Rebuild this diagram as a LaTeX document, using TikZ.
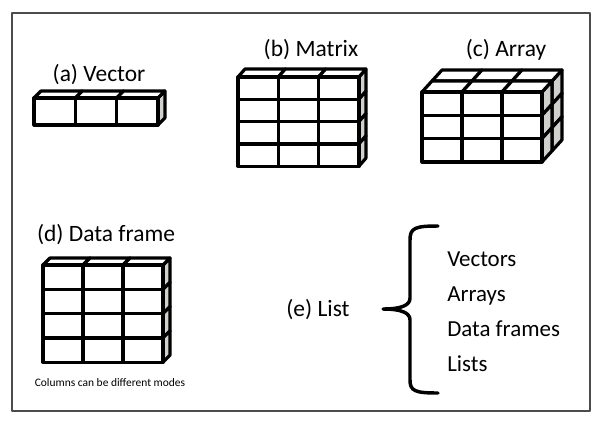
\documentclass[tikz,border=0pt]{standalone}
\usepackage{fontspec}
\setmainfont{Carlito}
\newcommand\gridbox[9]{% x0 y0 ncols nrows w h layers dx dy
  \foreach \k in {#7,...,1}{%
    \foreach \r in {1,...,#4}{%
      \draw[edge,fill=sidegray]
        ({#1+#3*#5+(\k-1)*#8},{#2+(\r-1)*#6+(\k-1)*#9}) --
        ({#1+#3*#5+\k*#8},{#2+(\r-1)*#6+\k*#9}) --
        ({#1+#3*#5+\k*#8},{#2+\r*#6+\k*#9}) --
        ({#1+#3*#5+(\k-1)*#8},{#2+\r*#6+(\k-1)*#9}) -- cycle;
    }
    \foreach \c in {1,...,#3}{%
      \draw[edge,fill=white]
        ({#1+(\c-1)*#5+(\k-1)*#8},{#2+(\k-1)*#9}) --
        ({#1+(\c-1)*#5+\k*#8},{#2+\k*#9}) --
        ({#1+\c*#5+\k*#8},{#2+\k*#9}) --
        ({#1+\c*#5+(\k-1)*#8},{#2+(\k-1)*#9}) -- cycle;
    }
  }
  \foreach \c in {1,...,#3}{%
    \foreach \r in {1,...,#4}{%
      \draw[edge,fill=white]
        ({#1+(\c-1)*#5},{#2+(\r-1)*#6}) rectangle ({#1+\c*#5},{#2+\r*#6});
    }
  }
}
\begin{document}
\begin{tikzpicture}[x=0.75pt,y=-0.75pt,line join=round,
  edge/.style={line width=2.4pt,draw=black},
  lbl/.style={anchor=base,inner sep=0pt,font=\fontsize{17.6}{20}\selectfont},
  item/.style={anchor=base west,inner sep=0pt,font=\fontsize{17.2}{20}\selectfont},
  small/.style={anchor=base,inner sep=0pt,font=\fontsize{8.6}{10}\selectfont}]
\definecolor{sidegray}{RGB}{208,208,204}
\useasboundingbox (0,0) rectangle (602,422);
\draw[line width=1pt,draw=black!70] (12,13) rectangle (590,411);

% (a) vector
\gridbox{34}{98}{3}{1}{41.3}{27}{1}{7}{-7}
\node[lbl] (la) at (99,81) {(a) Vector};
% (b) matrix
\gridbox{238}{77}{3}{4}{40.3}{22.3}{1}{7}{-8}
\node[lbl] (lb) at (311,56.7) {(b) Matrix};
% (c) array
\gridbox{422}{92}{3}{3}{40}{23.3}{2}{10}{-11}
\node[lbl] (lc) at (506,56.7) {(c) Array};
% (d) data frame
\gridbox{43}{265}{3}{4}{40}{24.3}{1}{7}{-7}
\node[lbl] (ld) at (106,241.7) {(d) Data frame};
\node[small] (note) at (110,386.7) {Columns can be different modes};

% (e) list
\node[lbl] (le) at (318,316.7) {(e) List};
\coordinate (btop) at (438,226);
\coordinate (btip) at (383,309);
\coordinate (bbot) at (438,393);
\draw[line width=2.6pt,line cap=round]
  (btop) .. controls (415,226) and (410,228) .. (410,240) -- (410,298)
  .. controls (410,305) and (402,309) .. (btip)
  .. controls (402,309) and (410,313) .. (410,320) -- (410,380)
  .. controls (410,391) and (415,393) .. (bbot);
\node[item] (i1) at (447,266.7) {Vectors};
\node[item] (i2) at (447,301.7) {Arrays};
\node[item] (i3) at (447,336.7) {Data frames};
\node[item] (i4) at (447,371.7) {Lists};
\end{tikzpicture}
\end{document}
